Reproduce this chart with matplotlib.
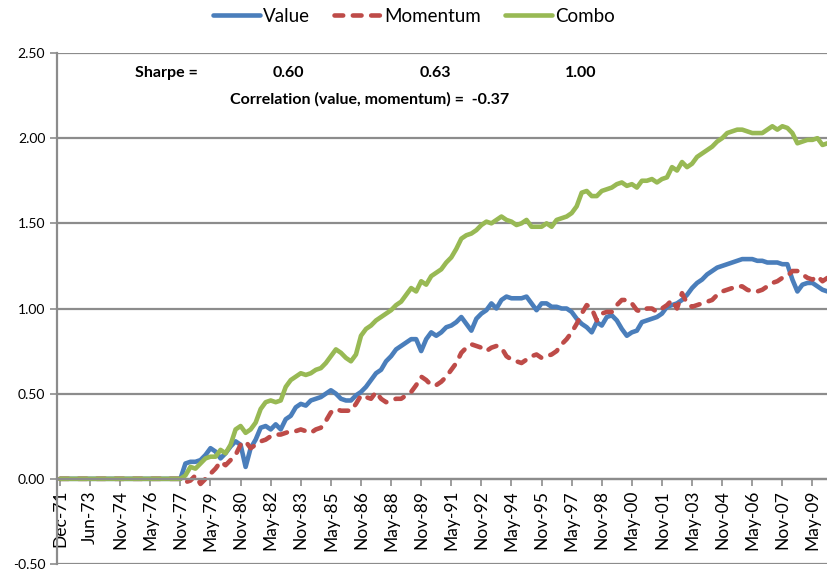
import matplotlib
matplotlib.use('Agg')
import matplotlib.pyplot as plt
import numpy as np

# monthly category axis, Dec-71 is category 0; all three series are flat at 0 until Nov-77
tick_labels = ['Dec-71', 'Jun-73', 'Nov-74', 'May-76', 'Nov-77', 'May-79', 'Nov-80', 'May-82',
               'Nov-83', 'May-85', 'Nov-86', 'May-88', 'Nov-89', 'May-91', 'Nov-92', 'May-94',
               'Nov-95', 'May-97', 'Nov-98', 'May-00', 'Nov-01', 'May-03', 'Nov-04', 'May-06',
               'Nov-07', 'May-09']
start_month = 72   # first live month (Nov-77)
step_months = 3

# cumulative returns, quarterly from Nov-77
value = [0.00, 0.09, 0.10, 0.10, 0.11, 0.14, 0.18, 0.16, 0.12, 0.15,
         0.19, 0.22, 0.20, 0.07, 0.18, 0.23, 0.30, 0.31, 0.29, 0.32,
         0.29, 0.35, 0.37, 0.42, 0.44, 0.43, 0.46, 0.47, 0.48, 0.50,
         0.52, 0.50, 0.47, 0.46, 0.46, 0.49, 0.51, 0.54, 0.58, 0.62,
         0.64, 0.69, 0.72, 0.76, 0.78, 0.80, 0.82, 0.82, 0.75, 0.82,
         0.86, 0.84, 0.86, 0.89, 0.90, 0.92, 0.95, 0.91, 0.87, 0.94,
         0.97, 0.99, 1.03, 1.00, 1.05, 1.07, 1.06, 1.06, 1.06, 1.07,
         1.03, 0.99, 1.03, 1.03, 1.01, 1.01, 1.00, 1.00, 0.98, 0.94,
         0.91, 0.89, 0.86, 0.92, 0.90, 0.95, 0.96, 0.93, 0.88, 0.84,
         0.86, 0.87, 0.92, 0.93, 0.94, 0.95, 0.97, 1.01, 1.02, 1.03,
         1.05, 1.08, 1.12, 1.15, 1.17, 1.20, 1.22, 1.24, 1.25, 1.26,
         1.27, 1.28, 1.29, 1.29, 1.29, 1.28, 1.28, 1.27, 1.27, 1.27,
         1.26, 1.26, 1.17, 1.10, 1.14, 1.15, 1.15, 1.13, 1.11, 1.10]
momentum = [0.00, -0.02, -0.01, 0.02, -0.03, 0.00, 0.03, 0.06, 0.10, 0.08,
            0.11, 0.14, 0.20, 0.22, 0.18, 0.20, 0.22, 0.23, 0.25, 0.26,
            0.26, 0.27, 0.28, 0.28, 0.29, 0.28, 0.27, 0.29, 0.30, 0.34,
            0.39, 0.41, 0.40, 0.40, 0.40, 0.44, 0.49, 0.48, 0.47, 0.51,
            0.47, 0.45, 0.46, 0.47, 0.47, 0.49, 0.51, 0.55, 0.60, 0.58,
            0.55, 0.55, 0.57, 0.60, 0.64, 0.68, 0.74, 0.77, 0.79, 0.78,
            0.77, 0.75, 0.77, 0.78, 0.77, 0.72, 0.70, 0.69, 0.68, 0.70,
            0.72, 0.73, 0.71, 0.72, 0.73, 0.75, 0.79, 0.82, 0.86, 0.91,
            0.97, 1.02, 1.00, 0.93, 0.97, 0.98, 0.98, 1.02, 1.05, 1.05,
            1.03, 0.99, 0.98, 1.00, 1.00, 0.98, 1.00, 1.02, 1.05, 1.00,
            1.09, 1.03, 1.01, 1.02, 1.03, 1.04, 1.05, 1.08, 1.10, 1.11,
            1.12, 1.13, 1.13, 1.11, 1.10, 1.10, 1.11, 1.13, 1.15, 1.16,
            1.18, 1.19, 1.22, 1.22, 1.20, 1.18, 1.17, 1.19, 1.16, 1.18]
combo = [0.00, 0.02, 0.07, 0.06, 0.09, 0.12, 0.13, 0.13, 0.17, 0.15,
         0.20, 0.29, 0.31, 0.27, 0.29, 0.33, 0.41, 0.45, 0.46, 0.45,
         0.46, 0.54, 0.58, 0.60, 0.62, 0.61, 0.62, 0.64, 0.65, 0.68,
         0.72, 0.76, 0.74, 0.71, 0.69, 0.73, 0.84, 0.88, 0.90, 0.93,
         0.95, 0.97, 0.99, 1.02, 1.04, 1.08, 1.12, 1.10, 1.16, 1.14,
         1.19, 1.21, 1.23, 1.27, 1.30, 1.35, 1.41, 1.43, 1.44, 1.46,
         1.49, 1.51, 1.50, 1.52, 1.54, 1.52, 1.51, 1.49, 1.50, 1.52,
         1.48, 1.48, 1.48, 1.50, 1.48, 1.52, 1.53, 1.54, 1.56, 1.60,
         1.68, 1.69, 1.66, 1.66, 1.69, 1.70, 1.71, 1.73, 1.74, 1.72,
         1.73, 1.71, 1.75, 1.75, 1.76, 1.74, 1.76, 1.77, 1.83, 1.81,
         1.86, 1.83, 1.85, 1.89, 1.91, 1.93, 1.95, 1.98, 2.00, 2.03,
         2.04, 2.05, 2.05, 2.04, 2.03, 2.03, 2.03, 2.05, 2.07, 2.05,
         2.07, 2.06, 2.03, 1.97, 1.98, 1.99, 1.99, 2.00, 1.96, 1.97]

sharpe = ['0.60', '0.63', '1.00']
correlation = '-0.37'

plt.rcParams.update({'font.family': ['Lato', 'DejaVu Sans'], 'font.size': 10})

fig = plt.figure(figsize=(8.28, 5.76), dpi=100)
ax = fig.add_axes([57 / 828, 12 / 576, 1 - 57 / 828, (564 - 53) / 576])

# x axis crosses at 0 (set before the tick labels, it rebuilds the ticks)
ax.spines['bottom'].set_position(('data', 0))

x = np.r_[0, np.arange(start_month, start_month + step_months * len(value), step_months)]

ax.plot(x, np.r_[0, value], color='#4A7EBB', lw=3.3, label='Value', solid_capstyle='round')
ax.plot(x, np.r_[0, momentum], color='#BE4B48', lw=3.3, label='Momentum',
        dashes=(1.9, 2.1), dash_capstyle='round')
ax.plot(x, np.r_[0, combo], color='#98B954', lw=3.3, label='Combo', solid_capstyle='round')

ax.set_xlim(-1.8, 459.3)
ax.set_ylim(-0.5, 2.5)
yt = np.arange(-0.5, 2.51, 0.5)
ax.set_yticks(yt)
ax.set_yticklabels(['%.2f' % v for v in yt], fontsize=10)
ax.yaxis.grid(True, color='#8C8C8C', lw=1.6)
ax.set_axisbelow(True)

ax.set_xticks(np.arange(0, 18 * len(tick_labels), 18))
ax.set_xticklabels(tick_labels, fontsize=12.5)
for s in ['top', 'right']:
    ax.spines[s].set_visible(False)
for s in ['left', 'bottom']:
    ax.spines[s].set_color('#8C8C8C')
    ax.spines[s].set_linewidth(1.6)
ax.tick_params(axis='both', color='#8C8C8C', width=1.2, length=5, direction='out')
ax.tick_params(axis='x', pad=3, labelrotation=90)

fig.legend(loc='center', bbox_to_anchor=(0.5, 1 - 16 / 576), ncol=3, frameon=False,
           fontsize=13.5, handlelength=2.5, handletextpad=0.15, columnspacing=1.3)

# annotation block, bold as in the original
fig.text(135 / 828, 1 - 73 / 576, 'Sharpe =', fontsize=11.5, fontweight='bold', va='center')
for xp, s in zip([288, 435, 581], sharpe):
    fig.text(xp / 828, 1 - 73 / 576, s, fontsize=11.5, fontweight='bold', va='center', ha='center')
fig.text(230 / 828, 1 - 99 / 576, 'Correlation (value, momentum) =  ' + correlation,
         fontsize=11.5, fontweight='bold', va='center')

plt.savefig('out.png', dpi=100)
